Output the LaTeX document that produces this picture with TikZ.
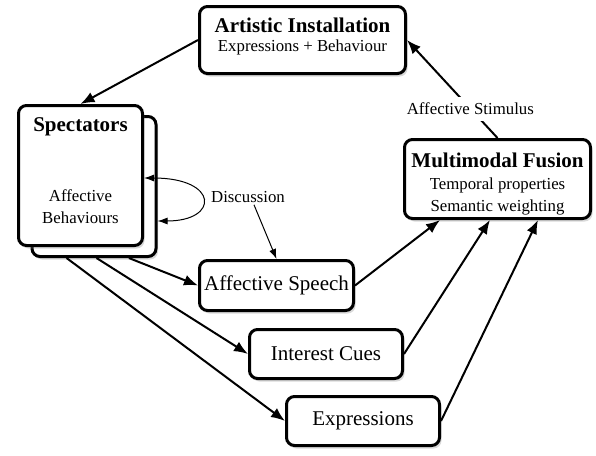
\documentclass[tikz,border=0pt]{standalone}
\usepackage{fontspec}
\setmainfont{Liberation Serif}
\usetikzlibrary{calc,shapes,positioning,shadows,arrows.meta}

\newcommand{\boxfont}{\fontsize{21}{22}\selectfont}
\newcommand{\notefont}{\fontsize{16.8}{22}\selectfont}

\tikzset{
    panel/.style={draw, line width=3pt, rounded corners=8pt, fill=white, align=center,
        inner sep=0pt, font=\boxfont,
        drop shadow={opacity=0.3, shadow xshift=2pt, shadow yshift=-3pt}},
    note/.style={font=\notefont, inner sep=2pt},
    link/.style={line width=2pt, -{Latex[length=14pt,width=11pt]}},
    thinlink/.style={line width=1pt, -{Latex[length=10pt,width=7pt]}},
}

\begin{document}
\begin{tikzpicture}[x=1pt, y=-1pt]
        \useasboundingbox (0,0) rectangle (596,455);

        % boxes
        \node[panel, minimum width=206pt, minimum height=67pt] (install) at (302.5,40)
            {\textbf{Artistic Installation}\\[-3pt]{\notefont Expressions + Behaviour}\rule[-10pt]{0pt}{1pt}};
        \node[panel, minimum width=124pt, minimum height=140pt] (specback) at (94,186.5) {};
        \node[panel, minimum width=124pt, minimum height=140pt] (spec) at (80.5,175.5)
            {\textbf{Spectators}\\[48pt]{\notefont Affective}\\{\notefont Behaviours}\rule[-10pt]{0pt}{1pt}};
        \node[panel, minimum width=186pt, minimum height=79pt] (fusion) at (497.5,179)
            {\rule{0pt}{24pt}\textbf{Multimodal Fusion}\\{\notefont Temporal properties}\\{\notefont Semantic weighting}};
        \node[panel, minimum width=154pt, minimum height=50pt] (speech) at (276.5,285.5) {Affective Speech};
        \node[panel, minimum width=153pt, minimum height=49pt] (cues) at (326,354) {Interest Cues};
        \node[panel, minimum width=153pt, minimum height=49pt] (expr) at (363,421) {Expressions};
        \node[note] (disc) at (248,197) {Discussion};

        % connectors
        \draw[link] (install.west) -- (spec.north);
        \draw[link] (fusion.north) -- node[note, fill=white, pos=0.3, inner sep=6pt] (stim) {Affective Stimulus} (install.east);
        \draw[thinlink, {Latex[length=10pt,width=7pt]}-{Latex[length=10pt,width=7pt]}] ([yshift=-2.5pt]spec.east)
            .. controls +(75,0) and +(62,0) .. ([yshift=-34.5pt]specback.east);
        \draw[thinlink] ([xshift=6pt]disc.south) -- (speech.north);
        \draw[link] (specback.-64) -- (speech.west);
        \draw[link] (specback.-88) -- (cues.west);
        \draw[link] (specback.-111) -- (expr.west);
        \draw[link] (speech.east) -- ($(fusion.south west)!0.196!(fusion.south east)$);
        \draw[link] (cues.east) -- ($(fusion.south west)!0.46!(fusion.south east)$);
        \draw[link] (expr.east) -- ($(fusion.south west)!0.714!(fusion.south east)$);
\end{tikzpicture}
\end{document}
